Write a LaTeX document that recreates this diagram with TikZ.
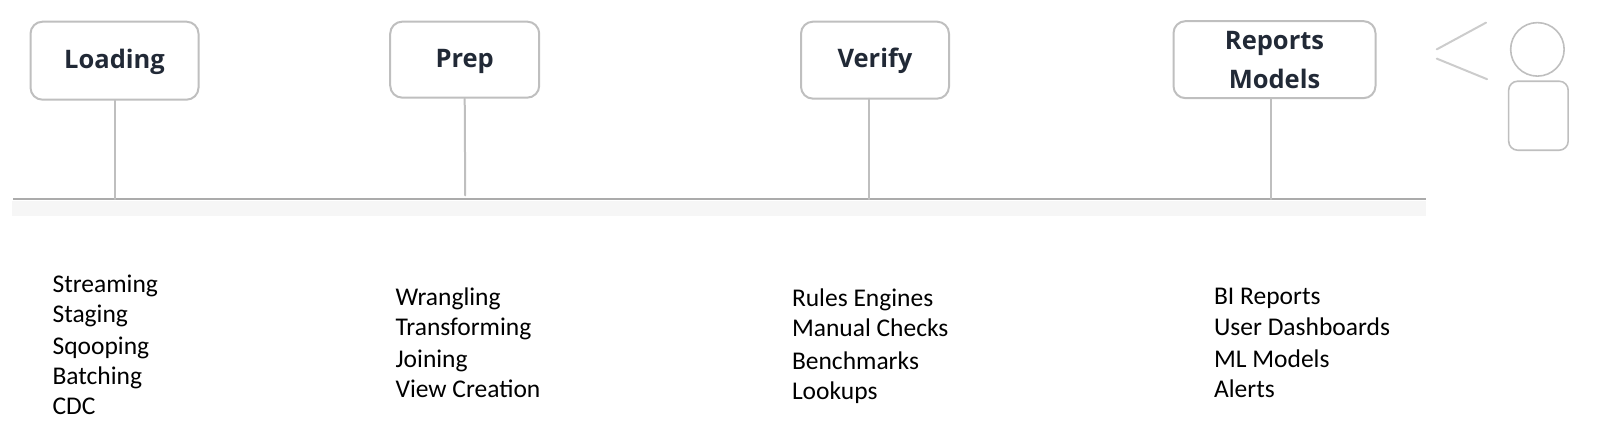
\documentclass[tikz,border=0pt]{standalone}
\usepackage{fontspec}
\setmainfont{Carlito}
\newfontfamily\headfont[Scale=1]{Open Sans}
\usepackage{xcolor}
\definecolor{boxgray}{rgb}{0.75,0.75,0.75}
\definecolor{bargray}{rgb}{0.67,0.67,0.67}
\definecolor{bandgray}{rgb}{0.965,0.965,0.965}
\definecolor{headink}{rgb}{0.13,0.16,0.21}
\tikzset{
  stagebox/.style={draw=boxgray,line width=2pt,rounded corners=12pt,inner sep=0pt,align=center,
    text=headink,font=\headfont\bfseries\fontsize{25.5}{39}\selectfont},
  oneline/.style={text height=21pt,text depth=6pt},
  stem/.style={draw=boxgray,line width=2pt},
  item/.style={anchor=base west,inner sep=0pt,font=\fontsize{25.5}{30}\selectfont}
}
\begin{document}
\begin{tikzpicture}[line cap=round,line join=round,x=1.027pt,y=-1.0285pt]
    \useasboundingbox (0,0) rectangle (1567.7,418.1);
    \fill [color=bandgray] (12,195) rectangle (1389,210);
    \coordinate (barL) at (13,193.5);
    \coordinate (barR) at (1389,193.5);
    \draw [line width=2pt,color=bargray,line cap=butt] (barL)-- (barR);
    \node [stagebox,oneline,minimum width=168pt,minimum height=78pt] (loading) at (111.5,59) {Loading};
    \node [stagebox,oneline,minimum width=149pt,minimum height=76pt] (prep) at (452.5,58) {Prep};
    \node [stagebox,oneline,minimum width=148pt,minimum height=77pt] (verify) at (852,58.5) {Verify};
    \node [stagebox,minimum width=202pt,minimum height=77pt] (reports) at (1241,58) {Reports\\Models};
    \coordinate (prepEnd) at (453,190);
    \coordinate (verifyTop) at (846,96);
    \coordinate (reportsTop) at (1238,96);
    \draw [stem] (loading.south)-- (loading.south |- barL);
    \draw [stem] (prep.south)-- (prepEnd);
    \draw [stem] (verifyTop)-- (verifyTop |- barL);
    \draw [stem] (reportsTop)-- (reportsTop |- barL);
    % person
    \node [draw=boxgray,line width=1.6pt,circle,minimum size=53.5pt,inner sep=0pt] (head) at (1497,48) {};
    \node [draw=boxgray,line width=1.6pt,rounded corners=9pt,minimum width=59.5pt,minimum height=69pt,inner sep=0pt] (body) at (1498,112.5) {};
    \coordinate (mouthA) at (1399,48);
    \coordinate (mouthB) at (1447,22);
    \coordinate (mouthC) at (1399,57);
    \coordinate (mouthD) at (1448,77);
    \draw [stem,color=boxgray!80] (mouthA)-- (mouthB);
    \draw [stem,color=boxgray!80] (mouthC)-- (mouthD);
    % loading list
    \node [item] (streaming) at (51,284) {Streaming};
    \node [item] (staging) at (51,314) {Staging};
    \node [item] (sqooping) at (51,345) {Sqooping};
    \node [item] (batching) at (51,374) {Batching};
    \node [item] (cdc) at (51,403) {CDC};
    % prep list
    \node [item] (wrangling) at (385,297) {Wrangling};
    \node [item] (transforming) at (385,326) {Transforming};
    \node [item] (joining) at (385,357) {Joining};
    \node [item] (viewcreation) at (385,386) {View Creation};
    % verify list
    \node [item] (rules) at (771,298) {Rules Engines};
    \node [item] (manual) at (771,327) {Manual Checks};
    \node [item] (benchmarks) at (771,359) {Benchmarks};
    \node [item] (lookups) at (771,388) {Lookups};
    % reports list
    \node [item] (bireports) at (1182,296) {BI Reports};
    \node [item] (dashboards) at (1182,326) {User Dashboards};
    \node [item] (mlmodels) at (1182,357) {ML Models};
    \node [item] (alerts) at (1182,386) {Alerts};
\end{tikzpicture}
\end{document}
